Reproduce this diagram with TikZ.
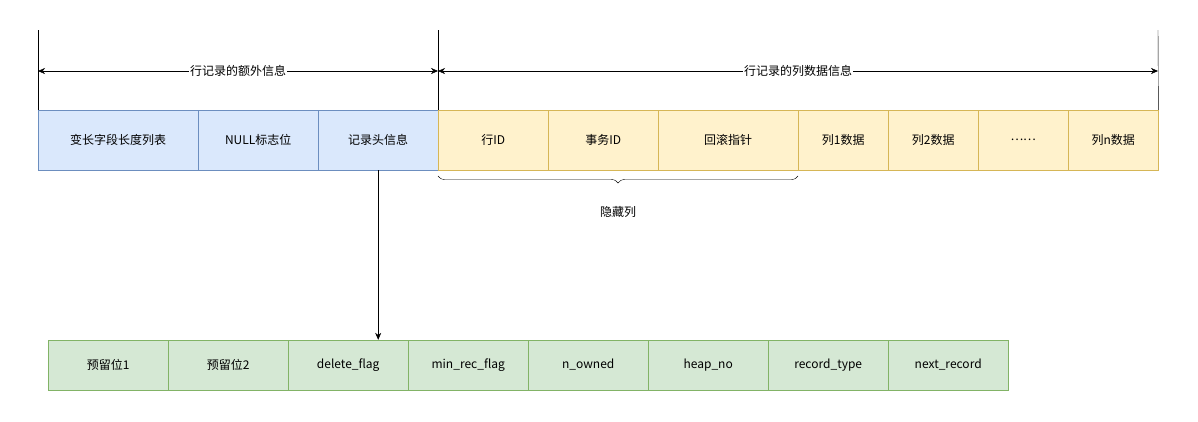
\documentclass[tikz,border=0pt]{standalone}
\usepackage{fontspec}
\setmainfont{Noto Sans CJK SC}
\usetikzlibrary{decorations.pathreplacing,arrows.meta}
\definecolor{bF}{HTML}{DAE8FC}\definecolor{bS}{HTML}{6C8EBF}
\definecolor{yF}{HTML}{FFF2CC}\definecolor{yS}{HTML}{D6B656}
\definecolor{gF}{HTML}{D5E8D4}\definecolor{gS}{HTML}{82B366}
\begin{document}
\begin{tikzpicture}[x=1pt,y=-1pt,font=\fontsize{12}{14}\selectfont,
 cell/.style={draw,minimum height=60pt,inner sep=0pt,anchor=west},
 blue/.style={cell,fill=bF,draw=bS},
 yel/.style={cell,fill=yF,draw=yS},
 grn/.style={draw=gS,fill=gF,minimum height=50pt,minimum width=120pt,inner sep=0pt,anchor=west},
 tip/.style={{Stealth[length=7pt,width=6pt]}},
 lbl/.style={fill=white,inner sep=1pt}]
\useasboundingbox (0,0) rectangle (1198,421);
\node[blue,minimum width=160pt] (a1) at (38,140) {变长字段长度列表};
\node[blue,minimum width=120pt] (a2) at (198,140) {NULL标志位};
\node[blue,minimum width=120pt] (a3) at (318,140) {记录头信息};
\node[yel,minimum width=110pt] (b1) at (438,140) {行ID};
\node[yel,minimum width=110pt] (b2) at (548,140) {事务ID};
\node[yel,minimum width=140pt] (b3) at (658,140) {回滚指针};
\node[yel,minimum width=90pt] (b4) at (798,140) {列1数据};
\node[yel,minimum width=90pt] (b5) at (888,140) {列2数据};
\node[yel,minimum width=90pt] (b6) at (978,140) {……};
\node[yel,minimum width=90pt] (b7) at (1068,140) {列n数据};
\coordinate (t1) at (38,30); \coordinate (t2) at (438,30); \coordinate (t3) at (1158,30);
\draw (t1) -- (a1.north west); \draw (t2) -- (b1.north west); \draw (t3) -- (b7.north east);
\coordinate (l1) at (38,71); \coordinate (l2) at (438,71); \coordinate (l3) at (1158,71);
\draw[{Stealth[length=7pt,width=6pt]}-{Stealth[length=7pt,width=6pt]}] (l1) -- node[lbl]{行记录的额外信息} (l2);
\draw[{Stealth[length=7pt,width=6pt]}-{Stealth[length=7pt,width=6pt]}] (l2) -- node[lbl]{行记录的列数据信息} (l3);
\draw[decorate,decoration={brace,mirror,amplitude=7pt}] (438,176) -- coordinate (bm) (798,176);
\node (hid) at (618,212) {隐藏列};
\node[grn] (c1) at (48,365) {预留位1};
\node[grn] (c2) at (168,365) {预留位2};
\node[grn] (c3) at (288,365) {delete\_flag};
\node[grn] (c4) at (408,365) {min\_rec\_flag};
\node[grn] (c5) at (528,365) {n\_owned};
\node[grn] (c6) at (648,365) {heap\_no};
\node[grn] (c7) at (768,365) {record\_type};
\node[grn] (c8) at (888,365) {next\_record};
\draw[-{Stealth[length=7pt,width=6pt]}] (a3.south) -- (a3.south |- c3.north);
\end{tikzpicture}
\end{document}
